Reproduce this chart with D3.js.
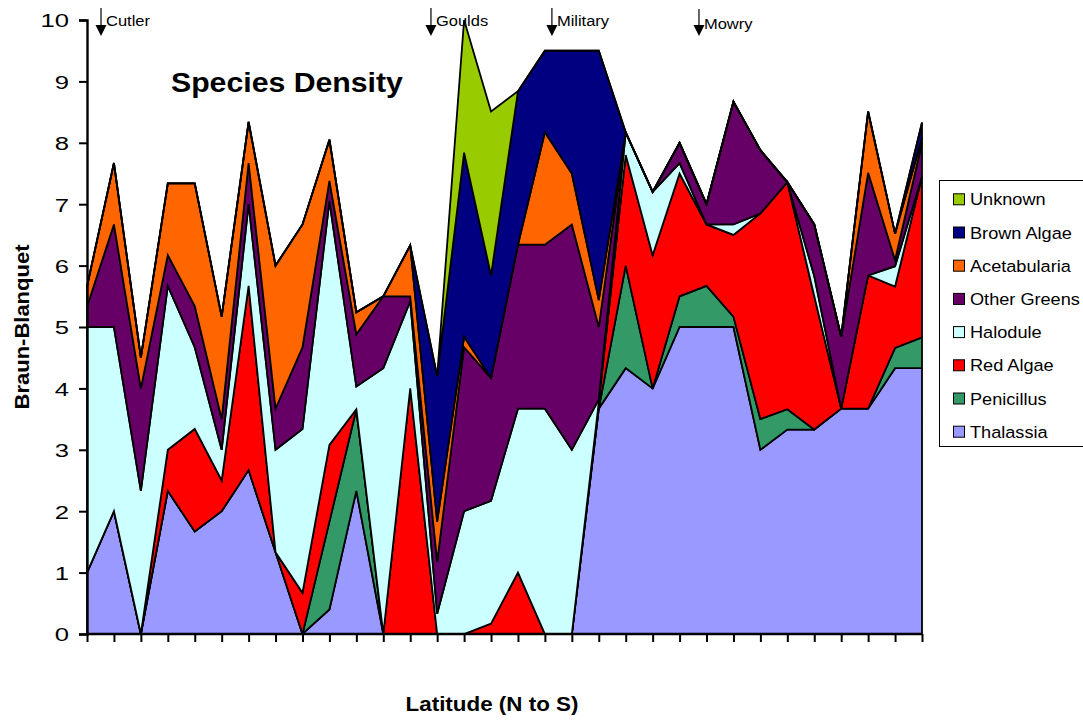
<!DOCTYPE html>
<html>
<head>
<meta charset="utf-8">
<script src="https://cdn.jsdelivr.net/npm/d3@7"></script>
<style>
  html, body { margin: 0; padding: 0; background: #ffffff; }
  svg { display: block; font-family: "Liberation Sans", Arial, sans-serif; }
</style>
</head>
<body>
<svg id="chart" width="1083" height="721"></svg>
<script>
// ---------------- DATA ----------------
const categories = ["1","2","3","4","5","6","7","8","9","10","11","12","13","14","15","16",
                    "17","18","19","20","21","22","23","24","25","26","27","28","29","30","31","32"];

const thalassia    = [1, 2, 0, 2.33, 1.67, 2, 2.67, 1.33, 0, 0.4, 2.33, 0, 0, 0, 0, 0,
                      0, 0, 0, 3.67, 4.33, 4, 5, 5, 5, 3, 3.33, 3.33, 3.67, 3.67, 4.33, 4.33];
const penicillus   = [0, 0, 0, 0, 0, 0, 0, 0, 0, 1.43, 1.33, 0, 0, 0, 0, 0,
                      0, 0, 0, 0, 1.67, 0, 0.5, 0.67, 0.17, 0.5, 0.33, 0, 0, 0, 0.33, 0.5];
const redAlgae     = [0, 0, 0, 0.67, 1.67, 0.5, 3, 0, 0.67, 1.25, 0, 0, 4, 0, 0, 0.17,
                      1, 0, 0, 0.1, 1.8, 2.17, 2, 1, 1.33, 3.35, 3.7, 2.17, 0, 2.17, 1, 2.62];
const halodule     = [4, 3, 2.33, 2.67, 1.33, 0.5, 1.33, 1.67, 2.67, 3.97, 0.37, 4.33, 1.42, 0.33, 2, 2,
                      2.67, 3.67, 3, 0.05, 0.37, 1.03, 0.17, 0, 0.17, 0, 0, 0.33, 0, 0, 0.33, 0];
const otherGreens  = [0.33, 1.67, 1.67, 0.5, 0.67, 0.5, 0.67, 0.67, 1.33, 0.33, 0.85, 1.17, 0.08, 0.85, 2.67, 2,
                      2.67, 2.67, 3.67, 1.18, 0, 0, 0.33, 0.33, 2, 1.03, 0, 0.84, 1.17, 1.67, 0.1, 0.55];
const acetabularia = [0.33, 1, 0.5, 1.17, 2, 1.67, 0.67, 2.33, 2, 0.67, 0.36, 0, 0.83, 0.65, 0.17, 0,
                      0, 1.83, 0.83, 0.44, 0, 0, 0, 0, 0, 0, 0, 0, 0, 1, 0.43, 0.08];
const brownAlgae   = [0, 0, 0, 0, 0, 0, 0, 0, 0, 0, 0, 0, 0, 2.37, 3, 1.67,
                      2.5, 1.33, 2, 4.06, 0, 0, 0, 0, 0, 0, 0, 0, 0, 0, 0, 0.25];
const unknown      = [0, 0, 0, 0, 0, 0, 0, 0, 0, 0, 0, 0, 0, 0, 2.16, 2.67,
                      0, 0, 0, 0, 0, 0, 0, 0, 0, 0, 0, 0, 0, 0, 0, 0];

const seriesNames  = ["Thalassia", "Penicillus", "Red Algae", "Halodule",
                      "Other Greens", "Acetabularia", "Brown Algae", "Unknown"];
const seriesValues = [thalassia, penicillus, redAlgae, halodule,
                      otherGreens, acetabularia, brownAlgae, unknown];
const seriesColors = ["#9999FF", "#339966", "#FF0000", "#CCFFFF",
                      "#660066", "#FF6600", "#000080", "#99CC00"];

const yTicks = [0, 1, 2, 3, 4, 5, 6, 7, 8, 9, 10];

// Site annotations (position in category-index units)
const siteNames = ["Cutler", "Goulds", "Military", "Mowry"];
const sitePos   = [0.52, 12.77, 17.26, 22.72];
const siteDrop  = [0, 0, 0, 3];

// ---------------- CHART ----------------
const svg = d3.select("#chart");
const pL = 87, pR = 922, pT = 20, pB = 634;

const xi = d3.scaleLinear().domain([0, categories.length - 1]).range([pL, pR]);
const xp = d3.scalePoint().domain(categories).range([pL, pR]);
const y  = d3.scaleLinear().domain([0, 10]).range([pB, pT]);

const rows = categories.map((c, i) => {
  const r = { cat: c, idx: i };
  seriesNames.forEach((n, k) => r[n] = seriesValues[k][i]);
  return r;
});
const stacked = d3.stack().keys(seriesNames)(rows);

const area = d3.area()
  .x(d => xi(d.data.idx))
  .y0(d => y(d[0]))
  .y1(d => y(d[1]));

svg.append("g").selectAll("path")
  .data(stacked)
  .join("path")
  .attr("d", area)
  .attr("fill", (d, k) => seriesColors[k])
  .attr("stroke", "#000")
  .attr("stroke-width", 1.8)
  .attr("stroke-linejoin", "miter");

// helper for horizontally stretched text
function stretchText(g, x, yy, str, size, sx, anchor, weight) {
  return g.append("text")
    .attr("transform", `translate(${x},${yy}) scale(${sx},1)`)
    .attr("text-anchor", anchor || "start")
    .attr("font-size", size)
    .attr("font-weight", weight || "normal")
    .attr("fill", "#000")
    .text(str);
}

// Y axis
const yAxis = svg.append("g")
  .attr("transform", `translate(${pL},0)`)
  .call(d3.axisLeft(y).tickValues(yTicks).tickSize(8).tickFormat(d3.format("d")));
yAxis.select(".domain").attr("stroke", "#000").attr("stroke-width", 2.4);
yAxis.selectAll(".tick line").attr("stroke", "#000").attr("stroke-width", 2);
yAxis.selectAll(".tick text")
  .attr("font-size", 19)
  .attr("font-family", "Liberation Sans, Arial, sans-serif")
  .attr("fill", "#000")
  .attr("x", -18 / 1.35)
  .attr("dy", "0.36em")
  .attr("transform", "scale(1.35,1)");

// X axis
const xAxis = svg.append("g")
  .attr("transform", `translate(0,${pB})`)
  .call(d3.axisBottom(xp).tickSize(8).tickFormat(""));
xAxis.select(".domain").attr("stroke", "#000").attr("stroke-width", 2.4)
  .attr("d", `M${pL},0H${pR}`);
xAxis.selectAll(".tick line").attr("stroke", "#000").attr("stroke-width", 2);

// Title
stretchText(svg, 171, 92, "Species Density", 28, 1.08, "start", "bold");

// Axis titles
svg.append("text")
  .attr("transform", "translate(29,327) rotate(-90) scale(1.1,1)")
  .attr("text-anchor", "middle")
  .attr("font-size", 20)
  .attr("font-weight", "bold")
  .text("Braun-Blanquet");
stretchText(svg, 492, 711, "Latitude (N to S)", 20, 1.12, "middle", "bold");

// Site annotations
const ann = svg.append("g");
siteNames.forEach((n, k) => {
  const ax = xi(sitePos[k]);
  const dy = siteDrop[k];
  ann.append("line")
    .attr("x1", ax).attr("x2", ax)
    .attr("y1", 8 + dy * 0.3).attr("y2", 27)
    .attr("stroke", "#000").attr("stroke-width", 1.2);
  ann.append("path")
    .attr("d", `M${ax - 5.5},25L${ax + 5.5},25L${ax},36Z`)
    .attr("fill", "#000");
  stretchText(ann, ax + 5, 26 + dy, n, 15, 1.1, "start");
});

// Legend
const lg = svg.append("g");
lg.append("rect")
  .attr("x", 939.5).attr("y", 180.5)
  .attr("width", 160).attr("height", 266)
  .attr("fill", "#fff").attr("stroke", "#000").attr("stroke-width", 1);
const legendOrder = seriesNames.map((n, k) => k).reverse();
legendOrder.forEach((k, j) => {
  const cy = 199.3 + j * 33.2;
  lg.append("rect")
    .attr("x", 953.5).attr("y", cy - 5.5)
    .attr("width", 11).attr("height", 11)
    .attr("fill", seriesColors[k]).attr("stroke", "#000").attr("stroke-width", 1);
  stretchText(lg, 970, cy + 6, seriesNames[k], 16.5, 1.1, "start");
});
</script>
</body>
</html>
